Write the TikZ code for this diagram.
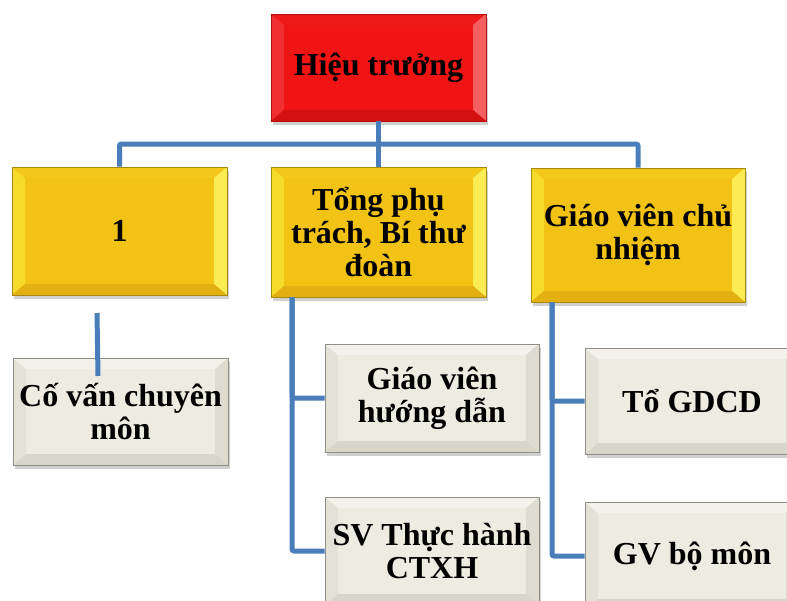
\documentclass[tikz,border=0pt]{standalone}
\usepackage{fontspec}
\setmainfont{Liberation Serif}
\usetikzlibrary{shadows,calc}
\definecolor{redbase}{HTML}{F01414}
\definecolor{redl}{HTML}{F03030}
\definecolor{redt}{HTML}{EE1A1A}
\definecolor{redr}{HTML}{F46060}
\definecolor{redb}{HTML}{D41010}
\definecolor{yelbase}{HTML}{F2C314}
\definecolor{yell}{HTML}{F6DA2C}
\definecolor{yelt}{HTML}{F3C81A}
\definecolor{yelr}{HTML}{FAEC52}
\definecolor{yelb}{HTML}{E2B010}
\definecolor{grybase}{HTML}{EEECE1}
\definecolor{gryl}{HTML}{E4E2D7}
\definecolor{gryt}{HTML}{F3F1E9}
\definecolor{gryr}{HTML}{DEDCD1}
\definecolor{gryb}{HTML}{D8D6CA}
\definecolor{conn}{HTML}{4A7EBB}
\tikzset{
  bevel/.style n args={4}{path picture={
    \fill[#1] (path picture bounding box.north west) -- (path picture bounding box.south west)
      -- ([shift={(13pt,11pt)}]path picture bounding box.south west)
      -- ([shift={(13pt,-11pt)}]path picture bounding box.north west) -- cycle;
    \fill[#2] (path picture bounding box.north west) -- (path picture bounding box.north east)
      -- ([shift={(-13pt,-11pt)}]path picture bounding box.north east)
      -- ([shift={(13pt,-11pt)}]path picture bounding box.north west) -- cycle;
    \fill[#3] (path picture bounding box.north east) -- (path picture bounding box.south east)
      -- ([shift={(-13pt,11pt)}]path picture bounding box.south east)
      -- ([shift={(-13pt,-11pt)}]path picture bounding box.north east) -- cycle;
    \fill[#4] (path picture bounding box.south west) -- (path picture bounding box.south east)
      -- ([shift={(-13pt,11pt)}]path picture bounding box.south east)
      -- ([shift={(13pt,11pt)}]path picture bounding box.south west) -- cycle;
  }},
  orgbox/.style={rectangle, draw, line width=0.7pt, inner sep=0pt, align=center,
    font=\fontsize{32}{33}\selectfont\bfseries,
    drop shadow={shadow xshift=2pt, shadow yshift=-4pt, opacity=0.3, fill=black!60}},
  redbox/.style={orgbox, fill=redbase, draw=redbase!75!black, bevel={redl}{redt}{redr}{redb},
    font=\fontsize{32}{35}\selectfont\bfseries},
  yelbox/.style={orgbox, fill=yelbase, draw=yelbase!70!black, bevel={yell}{yelt}{yelr}{yelb}},
  grybox/.style={orgbox, fill=grybase, draw=grybase!60!black, bevel={gryl}{gryt}{gryr}{gryb}},
  conline/.style={draw=conn, line width=5pt, rounded corners=2pt}
}
\begin{document}
\begin{tikzpicture}[x=1pt,y=-1pt]
\useasboundingbox (0,0) rectangle (787,600);
\clip (0,0) rectangle (787,600);
\fill[white] (0,0) rectangle (787,600);
% level 0
\node[redbox, minimum width=215pt, minimum height=107pt] (top) at (378.5,67.5) {Hiệu trưởng};
% level 1
\node[yelbox, minimum width=215pt, minimum height=128pt] (b1) at (119.5,231) {1};
\node[yelbox, minimum width=215pt, minimum height=130pt] (b2) at (378.5,232) {Tổng phụ\\trách, Bí thư\\đoàn};
\node[yelbox, minimum width=214pt, minimum height=134pt] (b3) at (638,235) {Giáo viên chủ\\nhiệm};
% level 2
\node[grybox, minimum width=215pt, minimum height=107pt] (c1) at (120.5,411.5) {Cố vấn chuyên\\môn};
\node[grybox, minimum width=214pt, minimum height=108pt] (c2a) at (432,398) {Giáo viên\\hướng dẫn};
\node[grybox, minimum width=214pt, minimum height=108pt] (c2b) at (432,551) {SV Thực hành\\CTXH};
\node[grybox, minimum width=214pt, minimum height=106pt] (c3a) at (692,401) {Tổ GDCD};
\node[grybox, minimum width=214pt, minimum height=108pt] (c3b) at (692,556) {GV bộ môn};
% connectors
\coordinate (bus) at (378.5,144);
\draw[conline] (top.south) -- (b2.north);
\draw[conline] (b1.north) |- (bus) -| (b3.north);
\draw[conline] ([xshift=-86.5pt]b2.south) |- (c2a.west);
\draw[conline] ([xshift=-86.5pt]b2.south) |- (c2b.west);
\draw[conline] ([xshift=-86pt]b3.south) |- (c3a.west);
\draw[conline] ([xshift=-86pt]b3.south) |- (c3b.west);
\coordinate (s1) at (97,313);
\coordinate (s2) at (98,376);
\draw[draw=conn, line width=5pt] (s1) -- (s2);
\end{tikzpicture}
\end{document}
